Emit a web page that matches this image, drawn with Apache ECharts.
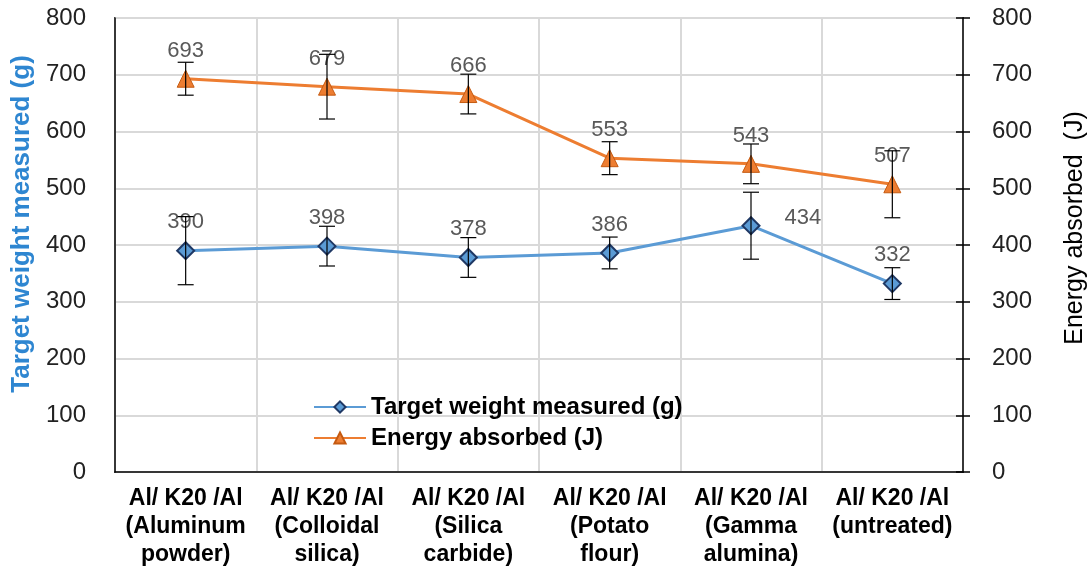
<!DOCTYPE html>
<html>
<head>
<meta charset="utf-8">
<script src="https://cdn.jsdelivr.net/npm/echarts@6/dist/echarts.min.js"></script>
<style>html,body{margin:0;padding:0;background:#fff}#c{width:1092px;height:575px}</style>
</head>
<body>
<div id="c"></div>
<script>
const categories = [
  'Al/ K20 /Al\n(Aluminum\npowder)',
  'Al/ K20 /Al\n(Colloidal\nsilica)',
  'Al/ K20 /Al\n(Silica\ncarbide)',
  'Al/ K20 /Al\n(Potato\nflour)',
  'Al/ K20 /Al\n(Gamma\nalumina)',
  'Al/ K20 /Al\n(untreated)'
];
const weightValues = [390, 398, 378, 386, 434, 332];
const weightErrors = [60, 35, 35, 28, 59, 28];
const energyValues = [693, 679, 666, 553, 543, 507];
const energyErrors = [29, 57, 35, 29, 35, 59];
const axisTicks = [0, 100, 200, 300, 400, 500, 600, 700, 800];

const FONT = '"Liberation Sans", Arial, sans-serif';

function errData(vals, errs) {
  return vals.map((v, i) => [i, v - errs[i], v + errs[i]]);
}
function errRender(params, api) {
  const x = api.value(0);
  const lo = api.coord([x, api.value(1)]);
  const hi = api.coord([x, api.value(2)]);
  const w = 8;
  const st = { stroke: '#000', lineWidth: 1.2 };
  return {
    type: 'group',
    children: [
      { type: 'line', shape: { x1: hi[0], y1: hi[1], x2: lo[0], y2: lo[1] }, style: st },
      { type: 'line', shape: { x1: hi[0] - w, y1: hi[1], x2: hi[0] + w, y2: hi[1] }, style: st },
      { type: 'line', shape: { x1: lo[0] - w, y1: lo[1], x2: lo[0] + w, y2: lo[1] }, style: st }
    ]
  };
}

const labelBase = { show: true, position: 'top', distance: 8, fontFamily: FONT, fontSize: 22, color: '#595959' };

const weightData = weightValues.map((v, i) => i === 4
  ? { value: v, label: { position: 'right', distance: 24, offset: [0, -8] } }
  : v);

const chart = echarts.init(document.getElementById('c'), null, { renderer: 'canvas' });
const yCommon = {
  type: 'value', min: axisTicks[0], max: axisTicks[axisTicks.length - 1], interval: 100,
  axisLabel: { fontFamily: FONT, fontSize: 24, color: '#222', margin: 29 },
  axisLine: { show: true, lineStyle: { color: '#000', width: 1.5 } }
};
chart.setOption({
  animation: false,
  grid: { left: 115, right: 129, top: 18, bottom: 103, show: true, borderColor: '#000', borderWidth: 1.5 },
  legend: {
    orient: 'vertical', left: 308, top: 390, itemWidth: 52, itemHeight: 14, itemGap: 7,
    textStyle: { fontFamily: FONT, fontSize: 24, fontWeight: 'bold', color: '#000' },
    data: ['Target weight measured (g)', 'Energy absorbed (J)']
  },
  graphic: [
    {
      type: 'text', x: 22, y: 224, rotation: Math.PI / 2,
      style: { text: 'Target weight measured (g)', fontFamily: FONT, fontSize: 26, fontWeight: 'bold',
        fill: '#2E86D1', align: 'center', verticalAlign: 'middle' }
    },
    {
      type: 'text', x: 1075, y: 228, rotation: Math.PI / 2,
      style: { text: 'Energy absorbed  (J)', fontFamily: FONT, fontSize: 25,
        fill: '#000', align: 'center', verticalAlign: 'middle' }
    }
  ],
  xAxis: {
    type: 'category', data: categories, boundaryGap: true,
    axisLine: { lineStyle: { color: '#000', width: 1.5 } },
    axisTick: { show: false },
    splitLine: { show: true, lineStyle: { color: '#D9D9D9', width: 2 } },
    axisLabel: { fontFamily: FONT, fontSize: 23, fontWeight: 'bold', color: '#000', lineHeight: 28, margin: 13, interval: 0 }
  },
  yAxis: [
    Object.assign({}, yCommon, {
      position: 'left',
      axisTick: { show: false },
      splitLine: { show: true, lineStyle: { color: '#D9D9D9', width: 2 } }
    }),
    Object.assign({}, yCommon, {
      position: 'right',
      axisTick: { show: true, inside: false, length: 7, lineStyle: { color: '#000', width: 1.5 } },
      splitLine: { show: false }
    }),
    Object.assign({}, yCommon, {
      position: 'right',
      axisLabel: { show: false },
      axisLine: { show: false },
      axisTick: { show: true, inside: true, length: 7, lineStyle: { color: '#000', width: 1.5 } },
      splitLine: { show: false }
    })
  ],
  series: [
    {
      name: 'Target weight measured (g)', type: 'line', yAxisIndex: 0, data: weightData,
      symbol: 'diamond', symbolSize: 17,
      lineStyle: { color: '#5B9BD5', width: 3 },
      itemStyle: { color: '#5B9BD5', borderColor: '#1F3864', borderWidth: 2 },
      label: labelBase,
      z: 3
    },
    {
      name: 'Energy absorbed (J)', type: 'line', yAxisIndex: 1, data: energyValues,
      symbol: 'triangle', symbolSize: 17,
      lineStyle: { color: '#ED7D31', width: 3 },
      itemStyle: { color: '#ED7D31', borderColor: '#C55A11', borderWidth: 1 },
      label: labelBase,
      z: 3
    },
    {
      type: 'custom', yAxisIndex: 0, data: errData(weightValues, weightErrors),
      renderItem: errRender, z: 4, silent: true
    },
    {
      type: 'custom', yAxisIndex: 1, data: errData(energyValues, energyErrors),
      renderItem: errRender, z: 4, silent: true
    }
  ]
});
</script>
</body>
</html>
